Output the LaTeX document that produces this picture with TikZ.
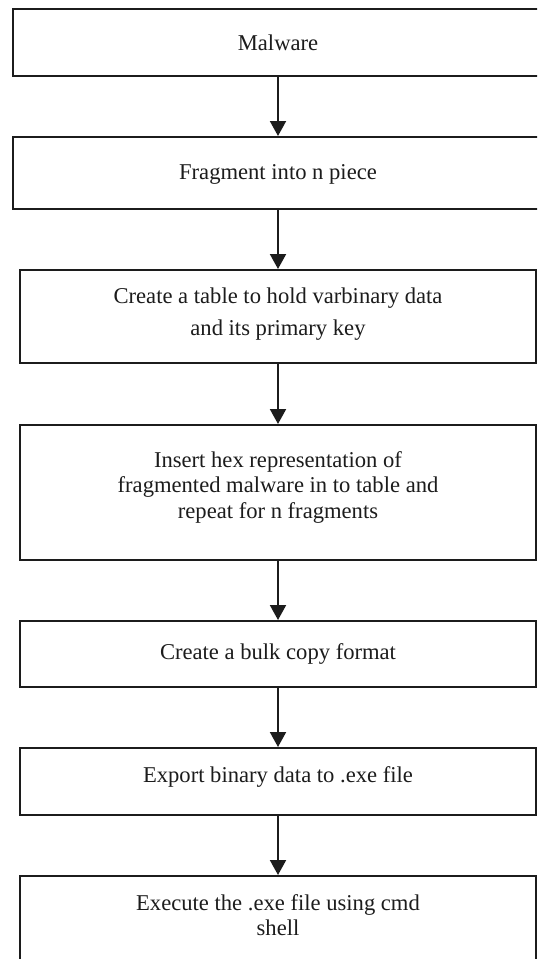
\documentclass[tikz,border=0pt]{standalone}
\usepackage{fontspec}
\setmainfont{Liberation Serif}
\usetikzlibrary{arrows.meta}
\definecolor{ink}{RGB}{28,28,28}
\begin{document}
\begin{tikzpicture}[x=0.5pt,y=-0.5pt,
  box/.style={draw=ink,line width=1pt,rectangle,inner sep=0pt,fill=white},
  widebox/.style={box,minimum width=265pt},
  stdbox/.style={box,minimum width=258pt},
  caption/.style={text=ink,align=center,inner sep=0pt,anchor=base},
  flow/.style={draw=ink,line width=1pt,-{Triangle[width=8pt,length=7.5pt]}}]
\useasboundingbox (0,0) rectangle (537,959);
\fill[white] (0,0) rectangle (537,959);
\clip (0,0) rectangle (537,959);

% process boxes
\node[widebox,minimum height=33.5pt] (b1) at (278,42.5) {};
\node[widebox,minimum height=36pt]   (b2) at (278,173) {};
\node[stdbox,minimum height=46.5pt]  (b3) at (278,316.5) {};
\node[stdbox,minimum height=67.5pt]  (b4) at (278,492.5) {};
\node[stdbox,minimum height=33pt]    (b5) at (278,654) {};
\node[stdbox,minimum height=33.5pt]  (b6) at (278,781.5) {};
\node[stdbox,minimum height=45pt]    (b7) at (278,921) {};

% captions (placed by the baseline of their last line)
\node[caption,font=\fontsize{11.3}{13}\selectfont] (t1) at (278,50) {Malware};
\node[caption,font=\fontsize{11.3}{13}\selectfont] (t2) at (278,179) {Fragment into n piece};
\node[caption,font=\fontsize{11.3}{16}\selectfont] (t3) at (278,335)
  {Create a table to hold varbinary data\\and its primary key};
\node[caption,font=\fontsize{11.3}{12.75}\selectfont] (t4) at (278,518)
  {Insert hex representation of\\fragmented malware in to table and\\repeat for n fragments};
\node[caption,font=\fontsize{11.3}{13}\selectfont] (t5) at (278,659) {Create a bulk copy format};
\node[caption,font=\fontsize{11.3}{13}\selectfont] (t6) at (278,782) {Export binary data to .exe file};
\node[caption,font=\fontsize{11.3}{12.5}\selectfont] (t7) at (278,935)
  {Execute the .exe file using cmd\\shell};

% connectors
\draw[flow] (b1) -- (b2);
\draw[flow] (b2) -- (b3);
\draw[flow] (b3) -- (b4);
\draw[flow] (b4) -- (b5);
\draw[flow] (b5) -- (b6);
\draw[flow] (b6) -- (b7);
\end{tikzpicture}
\end{document}
